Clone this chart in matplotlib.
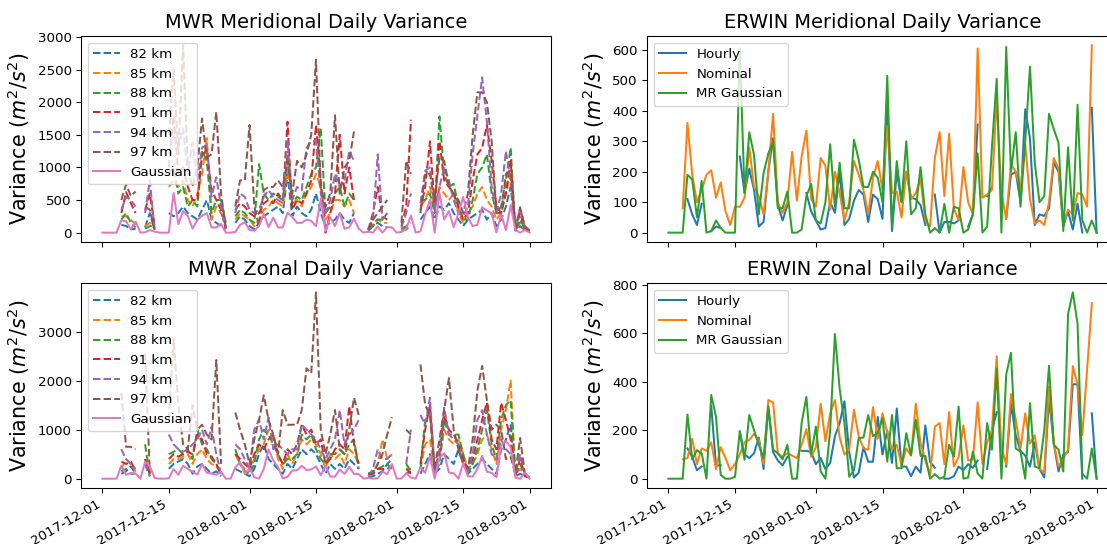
"""MWR vs ERWIN daily wind variance, Dec 2017 - Feb 2018 (2x2 panels)."""

import numpy as np
import pandas as pd
import matplotlib

matplotlib.use("Agg")
import matplotlib.pyplot as plt
import matplotlib.dates as mdates

nan = np.nan

days = pd.date_range("2017-12-01", "2018-03-01", freq="D")
heights = ["82 km", "85 km", "88 km", "91 km", "94 km", "97 km"]
erwin_names = ["Hourly", "Nominal", "MR Gaussian"]

# ERWIN meridional (also the MWR "Gaussian" curve)
merid_gauss = [0, 0, 0, 0, 190, 175, 50, 170, 0, 5,
               40, 15, 0, 0, 0, 605, 130, 330, 255, 60,
               195, 260, 300, 80, 80, 135, 0, 0, 10, 120,
               160, 40, 30, 100, 290, 85, 230, 80, 80, 305,
               240, 150, 150, 200, 180, 100, 515, 20, 235, 100,
               300, 60, 80, 215, 60, 0, 15, 0, 95, 0,
               85, 80, 0, 10, 60, 260, 0, 20, 280, 505,
               0, 610, 200, 330, 85, 300, 545, 230, 100, 120,
               390, 340, 295, 5, 280, 40, 420, 40, 0, 40, 0]
merid_nominal = [nan, nan, nan, 80, 360, 190, 100, 140, 190, 205,
                 115, 165, 70, 25, 85, 85, 115, 280, 150, 120,
                 60, 200, 390, 100, 65, 100, 265, 105, 250, 335,
                 110, 85, 245, 220, 75, 200, 130, 40, 100, 235,
                 190, 140, 60, 180, 235, 140, 350, 130, 135, 50,
                 200, 110, 130, 175, 40, 20, 245, 330, 120, 325,
                 80, 40, 215, 100, 60, 605, 115, 125, 140, 440,
                 130, 45, 225, 200, 140, 290, 110, 30, 40, 25,
                 100, 245, 210, 30, 75, 60, 130, 125, 85, 615, nan]
merid_hourly = [nan, nan, nan, nan, 110, 60, 25, 95, nan, 5,
                20, 15, nan, nan, nan, 250, 130, 210, 140, 20,
                35, 200, 310, 90, 40, 90, nan, nan, nan, 130,
                70, 40, 10, 15, 100, 65, 200, 25, 45, 105,
                140, 125, 35, 125, 110, 45, 430, 5, 200, 100,
                200, 115, 110, 90, 25, nan, 125, 0, 35, 35,
                30, 40, nan, 20, 60, 355, nan, 120, 150, nan,
                nan, 45, 190, 200, 100, 405, 310, 25, 60, 55,
                80, 230, 200, 20, 70, 10, 95, 0, nan, 410, 0]

# ERWIN zonal (also the MWR "Gaussian" curve)
zonal_gauss = [0, 0, 0, 0, 265, 80, 118, 105, 0, 346,
               256, 15, 0, 0, 8, 195, 78, 263, 200, 140,
               85, 300, 120, 105, 80, 140, 0, 0, 230, 338,
               100, 215, 30, 0, 200, 598, 370, 230, 8, 35,
               168, 170, 263, 176, 188, 250, 70, 263, 43, 43,
               188, 98, 243, 94, 94, 0, 19, 0, 8, 140,
               91, 298, 0, 5, 112, 22, 0, 230, 120, 455,
               0, 430, 520, 125, 112, 0, 312, 50, 43, 200,
               466, 140, 120, 30, 680, 770, 640, 20, 0, 125, 0]
zonal_nominal = [nan, nan, nan, 80, 85, 165, 60, 125, 115, 150,
                 40, 130, 85, 35, 60, 100, 150, 160, 185, 160,
                 60, 325, 315, 105, 90, 105, 95, 85, 140, 205,
                 90, 130, 310, 155, 270, 325, 170, 100, 120, 285,
                 175, 125, 120, 295, 165, 270, 190, 120, 140, 55,
                 125, 95, 310, 145, 75, 15, 215, 230, 60, 275,
                 50, 90, 220, 75, 80, 315, 60, 150, 200, 505,
                 125, 60, 350, 245, 125, 270, 145, 180, 40, 25,
                 380, 150, 50, 80, 120, 465, 390, 180, 450, 725, nan]
zonal_hourly = [nan, nan, nan, nan, 125, 90, 35, 50, nan, 300,
                55, 55, nan, nan, nan, 195, 100, 85, 105, 170,
                40, 295, 110, 75, 55, 90, nan, nan, 115, 115,
                110, 60, 85, 40, 65, 175, 230, 320, 110, 5,
                25, 130, 70, 70, 255, 100, 200, 65, 290, 50,
                50, 10, 50, 25, 220, 70, 45, nan, 0, 0,
                10, 50, 35, 60, 45, 75, nan, 40, 200, 275,
                nan, 50, 310, 180, 115, 95, 50, 150, 40, 5,
                330, 145, 30, 100, 110, 390, 390, 0, nan, 270, 0]

# MWR meridional, one row per day: 82, 85, 88, 91, 94, 97 km
G = [nan] * 6
mwr_merid_rows = [
    G, G, G, G,
    [120, 250, 200, 300, 350, 500], [100, 250, 300, 620, 550, 740],
    [50, 200, 150, 450, 500, 560], [60, 120, 80, 300, 400, 630], G,
    [80, 100, 60, 340, 300, 400], [300, 150, 100, 600, 800, 350],
    [40, 60, 100, 100, 60, 50], G, G,
    [300, 700, 900, 1000, 1200, 1500], [250, 800, 1000, 1800, 1500, 2500],
    [300, 700, 600, 900, 1300, 1200], [400, 800, 700, 1000, 1600, 2870],
    [300, 500, 400, 700, 900, 1000], [250, 400, 500, 500, 1380, 700],
    [200, 600, 400, 500, 800, 1000], [350, 900, 1250, 1200, 1300, 1750],
    [500, 1450, 1100, 1250, 1350, 1150], [200, 200, 300, 650, 550, 1200],
    [150, 400, 500, 500, 850, 1850], [100, 300, 500, 350, 400, 600],
    [50, 100, 150, 60, 60, 70], G,
    [150, 200, 250, 350, 300, 400], [250, 300, 350, 450, 600, 800],
    [200, 250, 300, 400, 550, 800], [100, 200, 200, 300, 350, 1650],
    [50, 100, 150, 250, 300, 400], [150, 200, 1050, 300, 350, 100],
    [250, 350, 600, 450, 550, 650], [300, 400, 500, 500, 650, 700],
    [350, 500, 600, 450, 550, 700], [400, 450, 550, 600, 500, 800],
    [300, 400, 500, 500, 450, 700], [900, 1000, 1200, 1700, 1400, 1100],
    [250, 450, 450, 350, 500, 600], [400, 500, 550, 500, 700, 1100],
    [300, 400, 500, 450, 650, 1000], [250, 600, 700, 600, 1300, 1200],
    [350, 700, 900, 800, 1400, 1500], [600, 900, 1000, 1650, 1400, 2650],
    [300, 700, 1600, 800, 600, 700], [100, 200, 300, 0, 300, 400],
    [150, 300, 400, 300, 500, 600], [200, 500, 600, 600, 900, 1800],
    [300, 500, 700, 1500, 700, 600], [200, 400, 400, 600, 800, 1000],
    [150, 500, 600, 1000, 1250, 1100], [300, 300, 500, 500, 1100, 1550],
    G, G,
    [30, 50, 80, 40, 60, 40], [100, 150, 100, 300, 200, 200],
    [150, 200, 200, 700, 1200, 300], [100, 150, 200, 250, 200, 400],
    [80, 150, 300, 200, 300, 500], G, G,
    [30, 50, 60, 100, 80, 150], [50, 80, 100, 400, 300, 1100],
    [100, 100, 150, 1730, 600, 900], G,
    [200, 400, 500, 350, 450, 300], [300, 500, 500, 700, 950, 900],
    [400, 700, 600, 1400, 1000, 900], [200, 350, 300, 400, 350, 500],
    [400, 700, 1780, 1400, 700, 1150], [350, 600, 900, 800, 1000, 1100],
    [450, 500, 700, 700, 800, 700], [300, 600, 750, 600, 500, 600],
    [200, 300, 400, 400, 300, 500], [100, 150, 200, 200, 250, 300],
    [200, 300, 200, 300, 400, 600], [250, 400, 500, 800, 1200, 1500],
    [300, 600, 900, 1200, 1800, 2150], [350, 700, 1000, 1300, 2380, 2150],
    [200, 500, 1200, 1650, 1700, 2000], [300, 400, 600, 1100, 700, 1400],
    [100, 200, 300, 400, 300, 300], [200, 300, 400, 300, 600, 300],
    [400, 600, 800, 600, 1250, 900], [700, 900, 1300, 1100, 800, 950],
    [30, 40, 30, 50, 40, 60], [100, 150, 200, 300, 390, 380],
    [40, 50, 60, 50, 80, 100], [20, 30, 30, 20, 40, 30],
]

# MWR zonal, one row per day: 82, 85, 88, 91, 94, 97 km
mwr_zonal_rows = [
    G, G, G, G,
    [100, 200, 150, 350, 600, 1750], [150, 400, 200, 300, 400, 650],
    [250, 300, 100, 350, 300, 650], [100, 150, 100, 150, 200, 600], G,
    [300, 400, 700, 400, 300, 2550], [50, 100, 50, 100, 50, 100],
    G, G, G,
    [200, 300, 500, 400, 900, 1200], [300, 400, 550, 500, 700, 2850],
    [350, 400, 600, 450, 600, 1500], [400, 450, 500, 500, 550, 700],
    [300, 500, 600, 550, 600, 600], [100, 300, 400, 500, 700, 1500],
    [250, 500, 1000, 900, 800, 1000], [300, 600, 700, 800, 1000, 1100],
    [200, 400, 600, 500, 700, 900], [100, 300, 400, 450, 1050, 800],
    [150, 250, 300, 300, 500, 2420], [50, 100, 80, 100, 100, 300],
    G, G,
    [200, 500, 600, 500, 700, 1350], [150, 300, 300, 400, 600, 1000],
    [100, 200, 150, 300, 400, 700], [50, 150, 100, 200, 200, 300],
    [200, 400, 300, 500, 1000, 800], [500, 600, 800, 700, 1200, 1200],
    [700, 700, 1000, 600, 800, 1700], [400, 1000, 900, 800, 1250, 1200],
    [300, 800, 700, 900, 600, 900], [200, 400, 500, 500, 700, 500],
    [100, 200, 300, 300, 600, 1400], [300, 500, 400, 600, 500, 1100],
    [200, 300, 400, 500, 600, 1100], [400, 500, 500, 700, 600, 1100],
    [600, 800, 900, 1100, 1100, 1400], [500, 700, 800, 900, 1000, 2250],
    [600, 800, 900, 1000, 900, 2150], [500, 700, 600, 700, 800, 3800],
    [300, 500, 400, 800, 600, 1000], [100, 200, 300, 300, 400, 500],
    [300, 500, 500, 400, 600, 900], [200, 400, 500, 600, 800, 1400],
    [300, 500, 600, 700, 1400, 600], [200, 300, 500, 600, 700, 500],
    [400, 600, 700, 1480, 900, 1000], [300, 500, 800, 700, 1000, 1650],
    [200, 300, 200, 300, 1200, 1300], G,
    [30, 50, 100, 100, 50, 100], [50, 100, 150, 100, 200, 100],
    [100, 300, 200, 200, 600, 300], [150, 800, 250, 200, 400, 500],
    [300, 400, 300, 200, 400, 900], [400, 500, 200, 250, 500, 1250],
    G, G,
    [100, 200, 300, 200, 300, 1000], [150, 200, 150, 100, 1000, 900], G,
    [100, 200, 200, 300, 1300, 2330], [300, 700, 1200, 1000, 1100, 1500],
    [500, 800, 1400, 1500, 1650, 1300], [100, 150, 100, 200, 150, 200],
    [200, 400, 300, 500, 600, 800], [500, 1000, 1200, 1300, 1450, 1400],
    [400, 800, 900, 1000, 900, 2050], [300, 700, 900, 900, 800, 1000],
    [600, 800, 900, 700, 700, 600], [300, 500, 500, 400, 300, 300],
    [100, 200, 100, 200, 150, 200], [200, 300, 300, 400, 500, 800],
    [300, 500, 600, 800, 1200, 1800], [400, 800, 1000, 1200, 1400, 2300],
    [300, 900, 1400, 1550, 900, 1600], [200, 600, 700, 800, 500, 1000],
    [100, 300, 400, 600, 400, 1100], [600, 1000, 1200, 1550, 800, 1000],
    [800, 1400, 1500, 1200, 600, 400], [1100, 2000, 1600, 800, 500, 450],
    [50, 100, 80, 60, 80, 100], [100, 200, 300, 400, 500, 830],
    [50, 80, 60, 50, 60, 100], [20, 30, 30, 20, 30, 40],
]

mwr_merid = np.array(mwr_merid_rows, dtype=float)
mwr_zonal = np.array(mwr_zonal_rows, dtype=float)

FS_TICK = 10
DPI = 96
fig, axes = plt.subplots(2, 2, figsize=(1107 / DPI, 544 / DPI), dpi=DPI, sharex=True)


def plot_mwr(ax, data, gauss, title):
    for i, h in enumerate(heights):
        ax.plot(days, data[:, i], "--", color=f"C{i}", label=h)
    ax.plot(days, gauss, "-", color="C6", label="Gaussian")
    ax.set_title(title, fontsize=14.5)
    ax.set_ylabel("Variance ($m^2/s^2$)", fontsize=15.5)
    ax.legend(loc="upper left", fontsize=FS_TICK)


def plot_erwin(ax, hourly, nominal, gauss, title):
    for series, name in zip([hourly, nominal, gauss], erwin_names):
        ax.plot(days, series, label=name)
    ax.set_title(title, fontsize=14.5)
    ax.set_ylabel("Variance ($m^2/s^2$)", fontsize=15.5)
    ax.legend(loc="upper left", fontsize=FS_TICK)


plot_mwr(axes[0, 0], mwr_merid, merid_gauss, "MWR Meridional Daily Variance")
plot_erwin(axes[0, 1], merid_hourly, merid_nominal, merid_gauss,
           "ERWIN Meridional Daily Variance")
plot_mwr(axes[1, 0], mwr_zonal, zonal_gauss, "MWR Zonal Daily Variance")
plot_erwin(axes[1, 1], zonal_hourly, zonal_nominal, zonal_gauss,
           "ERWIN Zonal Daily Variance")

for ax in axes.flat:
    ax.xaxis.set_major_locator(mdates.DayLocator(bymonthday=[1, 15]))
    ax.xaxis.set_major_formatter(mdates.DateFormatter("%Y-%m-%d"))
    ax.tick_params(labelsize=FS_TICK)
for ax in axes[1]:
    for lab in ax.get_xticklabels():
        lab.set_rotation(30)
        lab.set_ha("right")

axes[0, 0].set_yticks(range(0, 3001, 500))
axes[0, 1].set_yticks(range(0, 601, 100))
axes[1, 1].set_yticks(range(0, 801, 200))
axes[1, 0].set_yticks(range(0, 3001, 1000))

# hand-placed axes; right column runs past the figure edge as in the source
W, H = 1107, 544
for ax, (x0, y0, x1, y1) in zip(
    axes.flat,
    [(81, 36, 551, 242), (647, 36, 1118, 242),
     (81, 283, 551, 488), (647, 283, 1118, 488)],
):
    ax.set_position([x0 / W, 1 - y1 / H, (x1 - x0) / W, (y1 - y0) / H])

fig.savefig("out.png", dpi=DPI)
